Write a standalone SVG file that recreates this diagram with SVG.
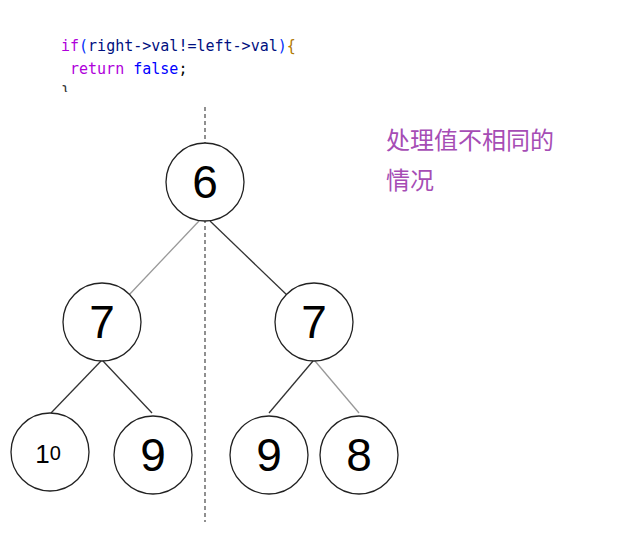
<svg xmlns="http://www.w3.org/2000/svg" width="624" height="551" viewBox="0 0 624 551">
<style>
.code{font-family:"DejaVu Sans Mono","Liberation Mono",monospace;font-size:15px}
.kw{fill:#AF00DB}.var{fill:#001080}.br{fill:#0431FA}.br2{fill:#B07800}.lit{fill:#0000FF}.txt{fill:#000}
.node circle{fill:#fff;stroke:#222;stroke-width:1.3}
.num{font-family:"Liberation Sans","Arial",sans-serif;font-size:46px;fill:#000;text-anchor:middle}
.edge{stroke:#333;stroke-width:1.3;fill:none}
.edge.light{stroke:#999}
.note{font-family:"Noto Sans CJK SC",sans-serif;font-size:24px;fill:#A64DB5}
</style>
<defs><clipPath id="cl"><rect x="0" y="0" width="624" height="92"/></clipPath></defs>
<rect width="624" height="551" fill="#fff"/>
<g id="code">
<text class="code" x="61" y="51"><tspan class="kw">if</tspan><tspan class="br">(</tspan><tspan class="var">right-&gt;val!=left-&gt;val</tspan><tspan class="br">)</tspan><tspan class="br2">{</tspan></text>
<text class="code" x="70" y="74"><tspan class="kw">return</tspan><tspan class="txt"> </tspan><tspan class="lit">false</tspan><tspan class="txt">;</tspan></text>
<text class="code" x="61" y="97" clip-path="url(#cl)" fill="#333">}</text>
</g>
<line x1="205" y1="107" x2="205" y2="522" stroke="#555" stroke-width="1.3" stroke-dasharray="4,3"/>
<g id="connectors">
<line class="edge light" x1="199" y1="221" x2="128" y2="296"/>
<line class="edge" x1="210" y1="221" x2="288" y2="296"/>
<line class="edge" x1="101" y1="361" x2="51" y2="413"/>
<line class="edge" x1="103" y1="361" x2="152" y2="413"/>
<line class="edge" x1="313" y1="361" x2="269" y2="413"/>
<line class="edge light" x1="315" y1="361" x2="359" y2="413"/>
</g>
<g id="n6" class="node"><circle cx="205" cy="182" r="39"/><text class="num" x="205" y="198">6</text></g>
<g id="n7l" class="node"><circle cx="102" cy="322" r="39"/><text class="num" x="102" y="338">7</text></g>
<g id="n7r" class="node"><circle cx="314" cy="322" r="39"/><text class="num" x="314" y="338">7</text></g>
<g id="n10" class="node"><circle cx="50" cy="452" r="39"/><text x="48" y="463" font-family="Liberation Sans,Arial,sans-serif" fill="#000" text-anchor="middle"><tspan font-size="26">1</tspan><tspan font-size="20" dy="-3">0</tspan></text></g>
<g id="n9l" class="node"><circle cx="153" cy="455" r="39"/><text class="num" x="153" y="471">9</text></g>
<g id="n9r" class="node"><circle cx="269" cy="455" r="39"/><text class="num" x="269" y="471">9</text></g>
<g id="n8" class="node"><circle cx="359" cy="455" r="39"/><text class="num" x="359" y="471">8</text></g>
<g id="note">
<text class="note" x="386" y="149">处理值不相同的</text>
<text class="note" x="386" y="189">情况</text>
</g>
</svg>
